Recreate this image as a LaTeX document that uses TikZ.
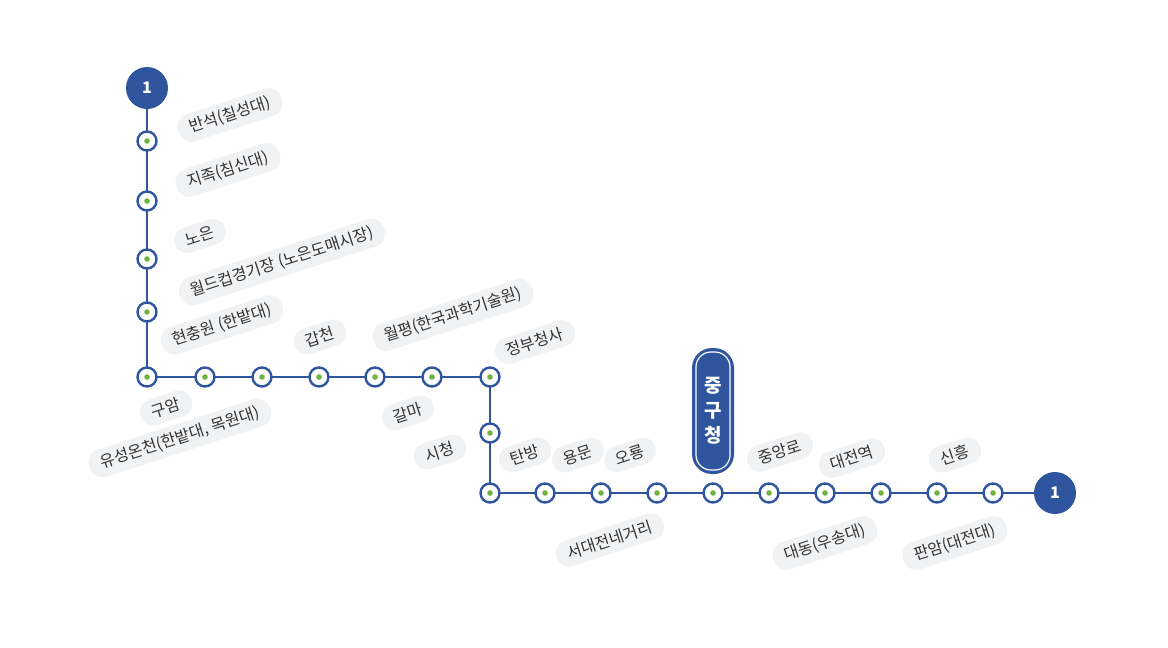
\documentclass[tikz,border=0pt]{standalone}
\usepackage{fontspec}
\setmainfont{Noto Sans CJK KR}
\definecolor{lb}{HTML}{2F559F}
\definecolor{lg}{HTML}{6DB33F}
\definecolor{pill}{HTML}{F1F2F4}
\begin{document}
\begin{tikzpicture}[x=1pt,y=-1pt,
 st/.style={circle,draw=lb,line width=2.4pt,fill=white,minimum size=19pt,inner sep=0pt,path picture={\fill[lg] (path picture bounding box.center) circle (2.8pt);}},
 term/.style={circle,fill=lb,text=white,font=\bfseries\fontsize{16}{16}\selectfont,minimum size=42pt,inner sep=0pt},
 lab/.style={rounded corners=13pt,fill=pill,font=\fontsize{16}{18}\selectfont,text=black!80,inner xsep=12pt,inner ysep=6pt,rotate=18},
 ln/.style={draw=lb,line width=2.6pt}]
\useasboundingbox (0,0) rectangle (1168,648);
\fill[white] (0,0) rectangle (1168,648);
\node[lab] (l1) at (230,115) {반석(칠성대)};
\node[lab] (l2) at (228,170) {지족(침신대)};
\node[lab] (l3) at (200,236) {노은};
\node[lab] (l4) at (282,262) {월드컵경기장 (노은도매시장)};
\node[lab] (l5) at (222,325) {현충원 (한밭대)};
\node[lab] (l6) at (320,337) {갑천};
\node[lab] (l7) at (453,315) {월평(한국과학기술원)};
\node[lab] (l8) at (535,342) {정부청사};
\node[lab] (l9) at (166,408) {구암};
\node[lab] (l10) at (180,438) {유성온천(한밭대, 목원대)};
\node[lab] (l11) at (408,413) {갈마};
\node[lab] (l12) at (440,452) {시청};
\node[lab] (l13) at (525,455) {탄방};
\node[lab] (l14) at (578,455) {용문};
\node[lab] (l15) at (630,455) {오룡};
\node[lab] (l16) at (610,540) {서대전네거리};
\node[lab] (l17) at (780,452) {중앙로};
\node[lab] (l18) at (852,458) {대전역};
\node[lab] (l19) at (955,455) {신흥};
\node[lab] (l20) at (825,543) {대동(우송대)};
\node[lab] (l21) at (955,543) {판암(대전대)};
\node[term] (t1) at (147,88) {1};
\node[term] (t2) at (1055,493) {1};
\coordinate (c1) at (147,377);
\coordinate (c2) at (490,377);
\coordinate (c3) at (490,493);
\draw[ln] (t1) -- (c1) -- (c2) -- (c3) -- (t2);
\foreach \n/\x/\y in {a/147/141,b/147/201,c/147/259,d/147/312,e/147/377,f/205/377,g/262/377,h/319/377,i/375/377,j/432/377,k/490/377,m/490/433,n/490/493,o/545/493,p/601/493,q/657/493,r/713/493,s/769/493,t/825/493,u/881/493,v/937/493,w/993/493}
  \node[st] (\n) at (\x,\y) {};
\node[draw=lb,line width=2pt,fill=lb,rounded corners=19pt,minimum width=40pt,minimum height=124pt,inner sep=0pt] (jg) at (713,411) {};
\draw[white,line width=1.2pt,rounded corners=15pt] ([shift={(4,4)}]jg.north west) rectangle ([shift={(-4,-4)}]jg.south east);
\node[text=white,font=\bfseries\fontsize{19}{25}\selectfont,align=center] (jgt) at (jg) {중\\구\\청};
\end{tikzpicture}
\end{document}
